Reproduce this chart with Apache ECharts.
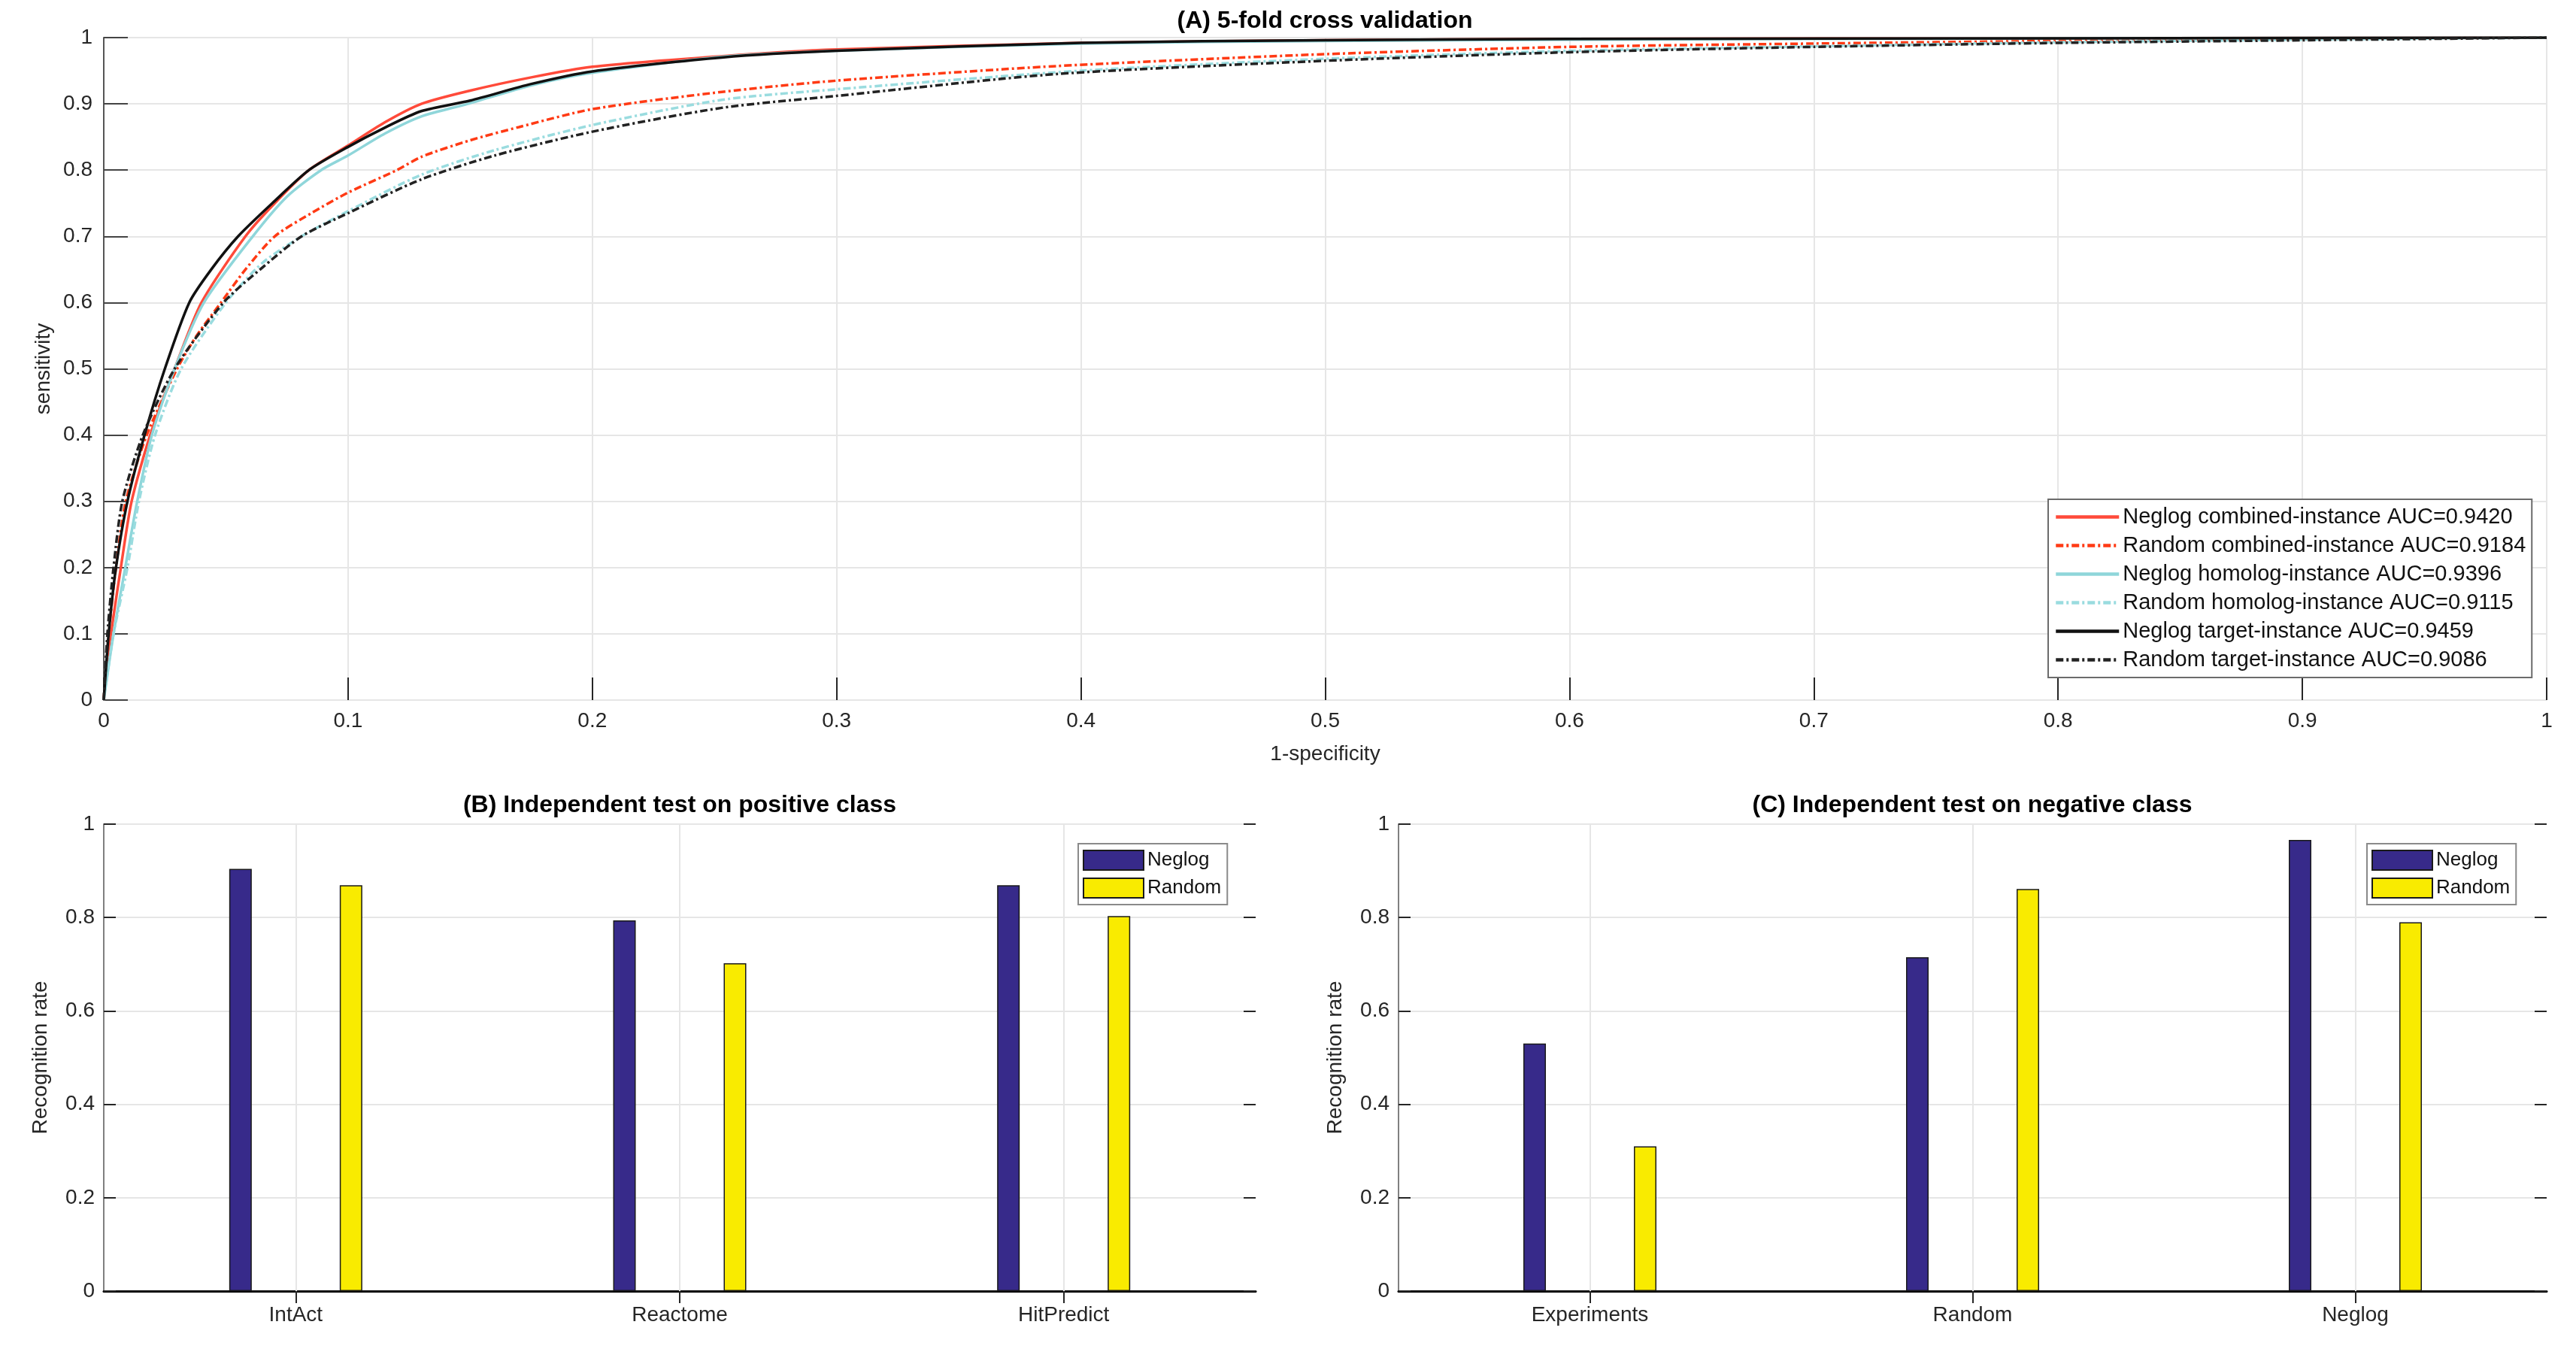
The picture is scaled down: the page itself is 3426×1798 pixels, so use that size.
<!DOCTYPE html>
<html>
<head>
<meta charset="utf-8">
<script src="https://cdn.jsdelivr.net/npm/echarts@6/dist/echarts.min.js"></script>
<style>
  html, body { margin: 0; padding: 0; background: #fff; }
  #main { width: 3426px; height: 1798px; }
</style>
</head>
<body>
<div id="main"></div>
<script>
// ROC curves, [1-specificity, sensitivity]
var negCombined = [[0,0],[0.003,0.1],[0.007,0.2],[0.0114,0.3],[0.019,0.4],[0.029,0.5],[0.04,0.6],[0.058,0.7],[0.07,0.75],[0.084,0.8],[0.1,0.837],[0.115,0.872],[0.13,0.9],[0.15,0.92],[0.175,0.94],[0.2,0.956],[0.253,0.972],[0.3,0.982],[0.4,0.992],[0.5,0.996],[0.6,0.998],[0.8,0.999],[1,1]];
var rndCombined = [[0,0],[0.002,0.1],[0.005,0.2],[0.009,0.3],[0.0176,0.4],[0.03,0.5],[0.038,0.55],[0.048,0.6],[0.058,0.65],[0.07,0.7],[0.085,0.735],[0.1,0.766],[0.12,0.8],[0.13,0.82],[0.15,0.845],[0.17,0.865],[0.2,0.892],[0.253,0.918],[0.3,0.935],[0.39,0.957],[0.5,0.975],[0.6,0.986],[0.7,0.991],[0.8,0.995],[0.9,0.998],[1,1]];
var negHomolog = [[0,0],[0.004,0.1],[0.0088,0.2],[0.0137,0.3],[0.0197,0.4],[0.029,0.5],[0.041,0.6],[0.061,0.7],[0.075,0.76],[0.089,0.8],[0.1,0.822],[0.115,0.855],[0.13,0.881],[0.149,0.9],[0.175,0.928],[0.2,0.947],[0.253,0.971],[0.3,0.98],[0.4,0.991],[0.5,0.995],[0.6,0.997],[0.8,0.999],[1,1]];
var rndHomolog = [[0,0],[0.004,0.1],[0.0097,0.2],[0.0144,0.3],[0.021,0.4],[0.0317,0.5],[0.05,0.6],[0.065,0.66],[0.081,0.7],[0.1,0.738],[0.13,0.793],[0.16,0.83],[0.2,0.868],[0.253,0.906],[0.3,0.922],[0.4,0.95],[0.5,0.968],[0.6,0.98],[0.7,0.987],[0.8,0.993],[0.9,0.997],[1,1]];
var negTarget = [[0,0],[0.002,0.1],[0.005,0.2],[0.0097,0.3],[0.0167,0.4],[0.025,0.5],[0.035,0.6],[0.044,0.65],[0.055,0.7],[0.069,0.75],[0.084,0.8],[0.1,0.835],[0.115,0.864],[0.13,0.889],[0.15,0.905],[0.175,0.93],[0.2,0.949],[0.253,0.97],[0.3,0.98],[0.4,0.992],[0.5,0.996],[0.6,0.998],[0.8,0.999],[1,1]];
var rndTarget = [[0,0],[0.0015,0.1],[0.004,0.2],[0.0076,0.3],[0.016,0.4],[0.029,0.5],[0.049,0.6],[0.064,0.65],[0.081,0.7],[0.1,0.735],[0.13,0.786],[0.16,0.822],[0.2,0.858],[0.253,0.894],[0.3,0.912],[0.39,0.945],[0.5,0.965],[0.6,0.978],[0.7,0.986],[0.8,0.992],[0.9,0.996],[1,1]];

var rocNames = [
    'Neglog combined-instance AUC=0.9420',
    'Random combined-instance AUC=0.9184',
    'Neglog homolog-instance AUC=0.9396',
    'Random homolog-instance AUC=0.9115',
    'Neglog target-instance AUC=0.9459',
    'Random target-instance AUC=0.9086'
];

// independent tests
var posClasses = ['IntAct', 'Reactome', 'HitPredict'];
var posNeglog = [0.904, 0.794, 0.869];
var posRandom = [0.869, 0.702, 0.803];

var negClasses = ['Experiments', 'Random', 'Neglog'];
var negNeglog = [0.530, 0.715, 0.966];
var negRandom = [0.310, 0.861, 0.790];

var FONT = 'Liberation Sans';
var TXT = '#262626';
var GRIDC = '#e6e6e6';
var dashDot = [10, 4, 3, 4];

function rocSeries(name, data, color, dashed) {
    return {
        name: name,
        type: 'line',
        xAxisIndex: 0,
        yAxisIndex: 0,
        data: data,
        showSymbol: false,
        symbol: 'none',
        smooth: 0.25,
        lineStyle: { color: color, width: 3.5, type: dashed ? dashDot : 'solid' },
        itemStyle: { color: color }
    };
}

function barX(gridIndex, cats, pos) {
    var top = pos === 'top';
    return {
        gridIndex: gridIndex,
        type: 'category',
        position: pos,
        data: cats,
        axisLine: { show: top, lineStyle: { color: '#000', width: 3 } },
        axisTick: { show: true, inside: true, alignWithLabel: true, length: 16, lineStyle: { color: TXT, width: 2 } },
        axisLabel: { show: !top, fontFamily: FONT, fontSize: 28, color: TXT, margin: 18 },
        splitLine: { show: false }
    };
}

function barY(gridIndex, pos) {
    var left = pos === 'left';
    return {
        gridIndex: gridIndex,
        type: 'value',
        position: pos,
        min: 0, max: 1, interval: 0.2,
        name: left ? 'Recognition rate' : '',
        nameLocation: 'middle',
        nameRotate: 90,
        nameGap: 70,
        nameTextStyle: { fontFamily: FONT, fontSize: 28, color: TXT },
        axisLine: { show: left, lineStyle: { color: '#808080', width: 2 } },
        axisTick: { show: true, inside: true, length: 16, lineStyle: { color: TXT, width: 2 } },
        axisLabel: { show: left, fontFamily: FONT, fontSize: 28, color: TXT, margin: 12 },
        splitLine: { show: left, lineStyle: { color: GRIDC, width: 2 } }
    };
}

function barSeries(name, xi, yi, data, color) {
    return {
        name: name,
        type: 'bar',
        xAxisIndex: xi,
        yAxisIndex: yi,
        data: data,
        barWidth: 30,
        barGap: '390%',
        z: 3,
        itemStyle: { color: color, borderColor: '#1a1a1a', borderWidth: 1.5 }
    };
}

// empty helper series: vertical grid lines at the category centres
function catGridLines(xi, yi, cats) {
    return {
        name: 'catgrid' + xi,
        type: 'line',
        xAxisIndex: xi,
        yAxisIndex: yi,
        data: [],
        z: 1,
        markLine: {
            silent: true,
            symbol: 'none',
            animation: false,
            label: { show: false },
            lineStyle: { color: GRIDC, width: 2, type: 'solid' },
            data: cats.map(function (c) { return { xAxis: c }; })
        }
    };
}

function barLegend(left) {
    return {
        data: ['Neglog', 'Random'],
        orient: 'vertical',
        left: left,
        top: 1122,
        icon: 'rect',
        itemWidth: 80,
        itemHeight: 26,
        itemGap: 9,
        padding: [8, 8, 8, 6],
        backgroundColor: '#fff',
        borderColor: '#8a8a8a',
        borderWidth: 2,
        textStyle: { fontFamily: FONT, fontSize: 26, color: '#111' }
    };
}

var option = {
    backgroundColor: '#fff',
    animation: false,
    title: [
        { text: '(A) 5-fold cross validation', left: 1762, top: 12, textAlign: 'center', padding: 0,
          textStyle: { fontFamily: FONT, fontSize: 32, fontWeight: 'bold', color: '#000' } },
        { text: '(B) Independent test on positive class', left: 904, top: 1055, textAlign: 'center', padding: 0,
          textStyle: { fontFamily: FONT, fontSize: 32, fontWeight: 'bold', color: '#000' } },
        { text: '(C) Independent test on negative class', left: 2623, top: 1055, textAlign: 'center', padding: 0,
          textStyle: { fontFamily: FONT, fontSize: 32, fontWeight: 'bold', color: '#000' } }
    ],
    legend: [
        {
            data: rocNames,
            orient: 'vertical',
            left: 2724,
            top: 664,
            itemWidth: 84,
            itemHeight: 20,
            itemGap: 9,
            padding: [9, 8, 9, 8],
            backgroundColor: '#fff',
            borderColor: '#6b6b6b',
            borderWidth: 2,
            itemStyle: { opacity: 0 },
            lineStyle: { width: 4.5 },
            textStyle: { fontFamily: FONT, fontSize: 29, color: '#111' }
        },
        barLegend(1434),
        barLegend(3148)
    ],
    grid: [
        { left: 138, right: 39, top: 50, bottom: 867 },
        { left: 138, right: 1756, top: 1096, bottom: 81 },
        { left: 1860, right: 39, top: 1096, bottom: 81 }
    ],
    xAxis: [
        {
            gridIndex: 0,
            type: 'value',
            min: 0, max: 1, interval: 0.1,
            name: '1-specificity',
            nameLocation: 'middle',
            nameGap: 58,
            nameTextStyle: { fontFamily: FONT, fontSize: 28, color: TXT },
            axisLine: { show: false },
            axisTick: { show: true, inside: true, length: 30, lineStyle: { color: TXT, width: 2 } },
            axisLabel: { fontFamily: FONT, fontSize: 28, color: TXT, margin: 14 },
            splitLine: { show: true, lineStyle: { color: GRIDC, width: 2 } }
        },
        barX(1, posClasses, 'bottom'),
        barX(1, posClasses, 'top'),
        barX(2, negClasses, 'bottom'),
        barX(2, negClasses, 'top')
    ],
    yAxis: [
        {
            gridIndex: 0,
            type: 'value',
            min: 0, max: 1, interval: 0.1,
            name: 'sensitivity',
            nameLocation: 'middle',
            nameRotate: 90,
            nameGap: 66,
            nameTextStyle: { fontFamily: FONT, fontSize: 28, color: TXT },
            axisLine: { show: true, lineStyle: { color: '#555', width: 2 } },
            axisTick: { show: true, inside: true, length: 32, lineStyle: { color: '#444', width: 2 } },
            axisLabel: { fontFamily: FONT, fontSize: 28, color: TXT, margin: 15 },
            splitLine: { show: true, lineStyle: { color: GRIDC, width: 2 } }
        },
        barY(1, 'left'),
        barY(1, 'right'),
        barY(2, 'left'),
        barY(2, 'right')
    ],
    series: [
        rocSeries(rocNames[0], negCombined, '#ff4a3a', false),
        rocSeries(rocNames[1], rndCombined, '#ff3a14', true),
        rocSeries(rocNames[2], negHomolog, '#8fd6da', false),
        rocSeries(rocNames[3], rndHomolog, '#9adcdf', true),
        rocSeries(rocNames[4], negTarget, '#111111', false),
        rocSeries(rocNames[5], rndTarget, '#222222', true),
        catGridLines(1, 1, posClasses),
        catGridLines(3, 3, negClasses),
        barSeries('Neglog', 1, 1, posNeglog, '#372a8a'),
        barSeries('Random', 1, 1, posRandom, '#f9eb00'),
        barSeries('Neglog', 3, 3, negNeglog, '#372a8a'),
        barSeries('Random', 3, 3, negRandom, '#f9eb00')
    ]
};

var chart = echarts.init(document.getElementById('main'));
chart.setOption(option);
</script>
</body>
</html>
